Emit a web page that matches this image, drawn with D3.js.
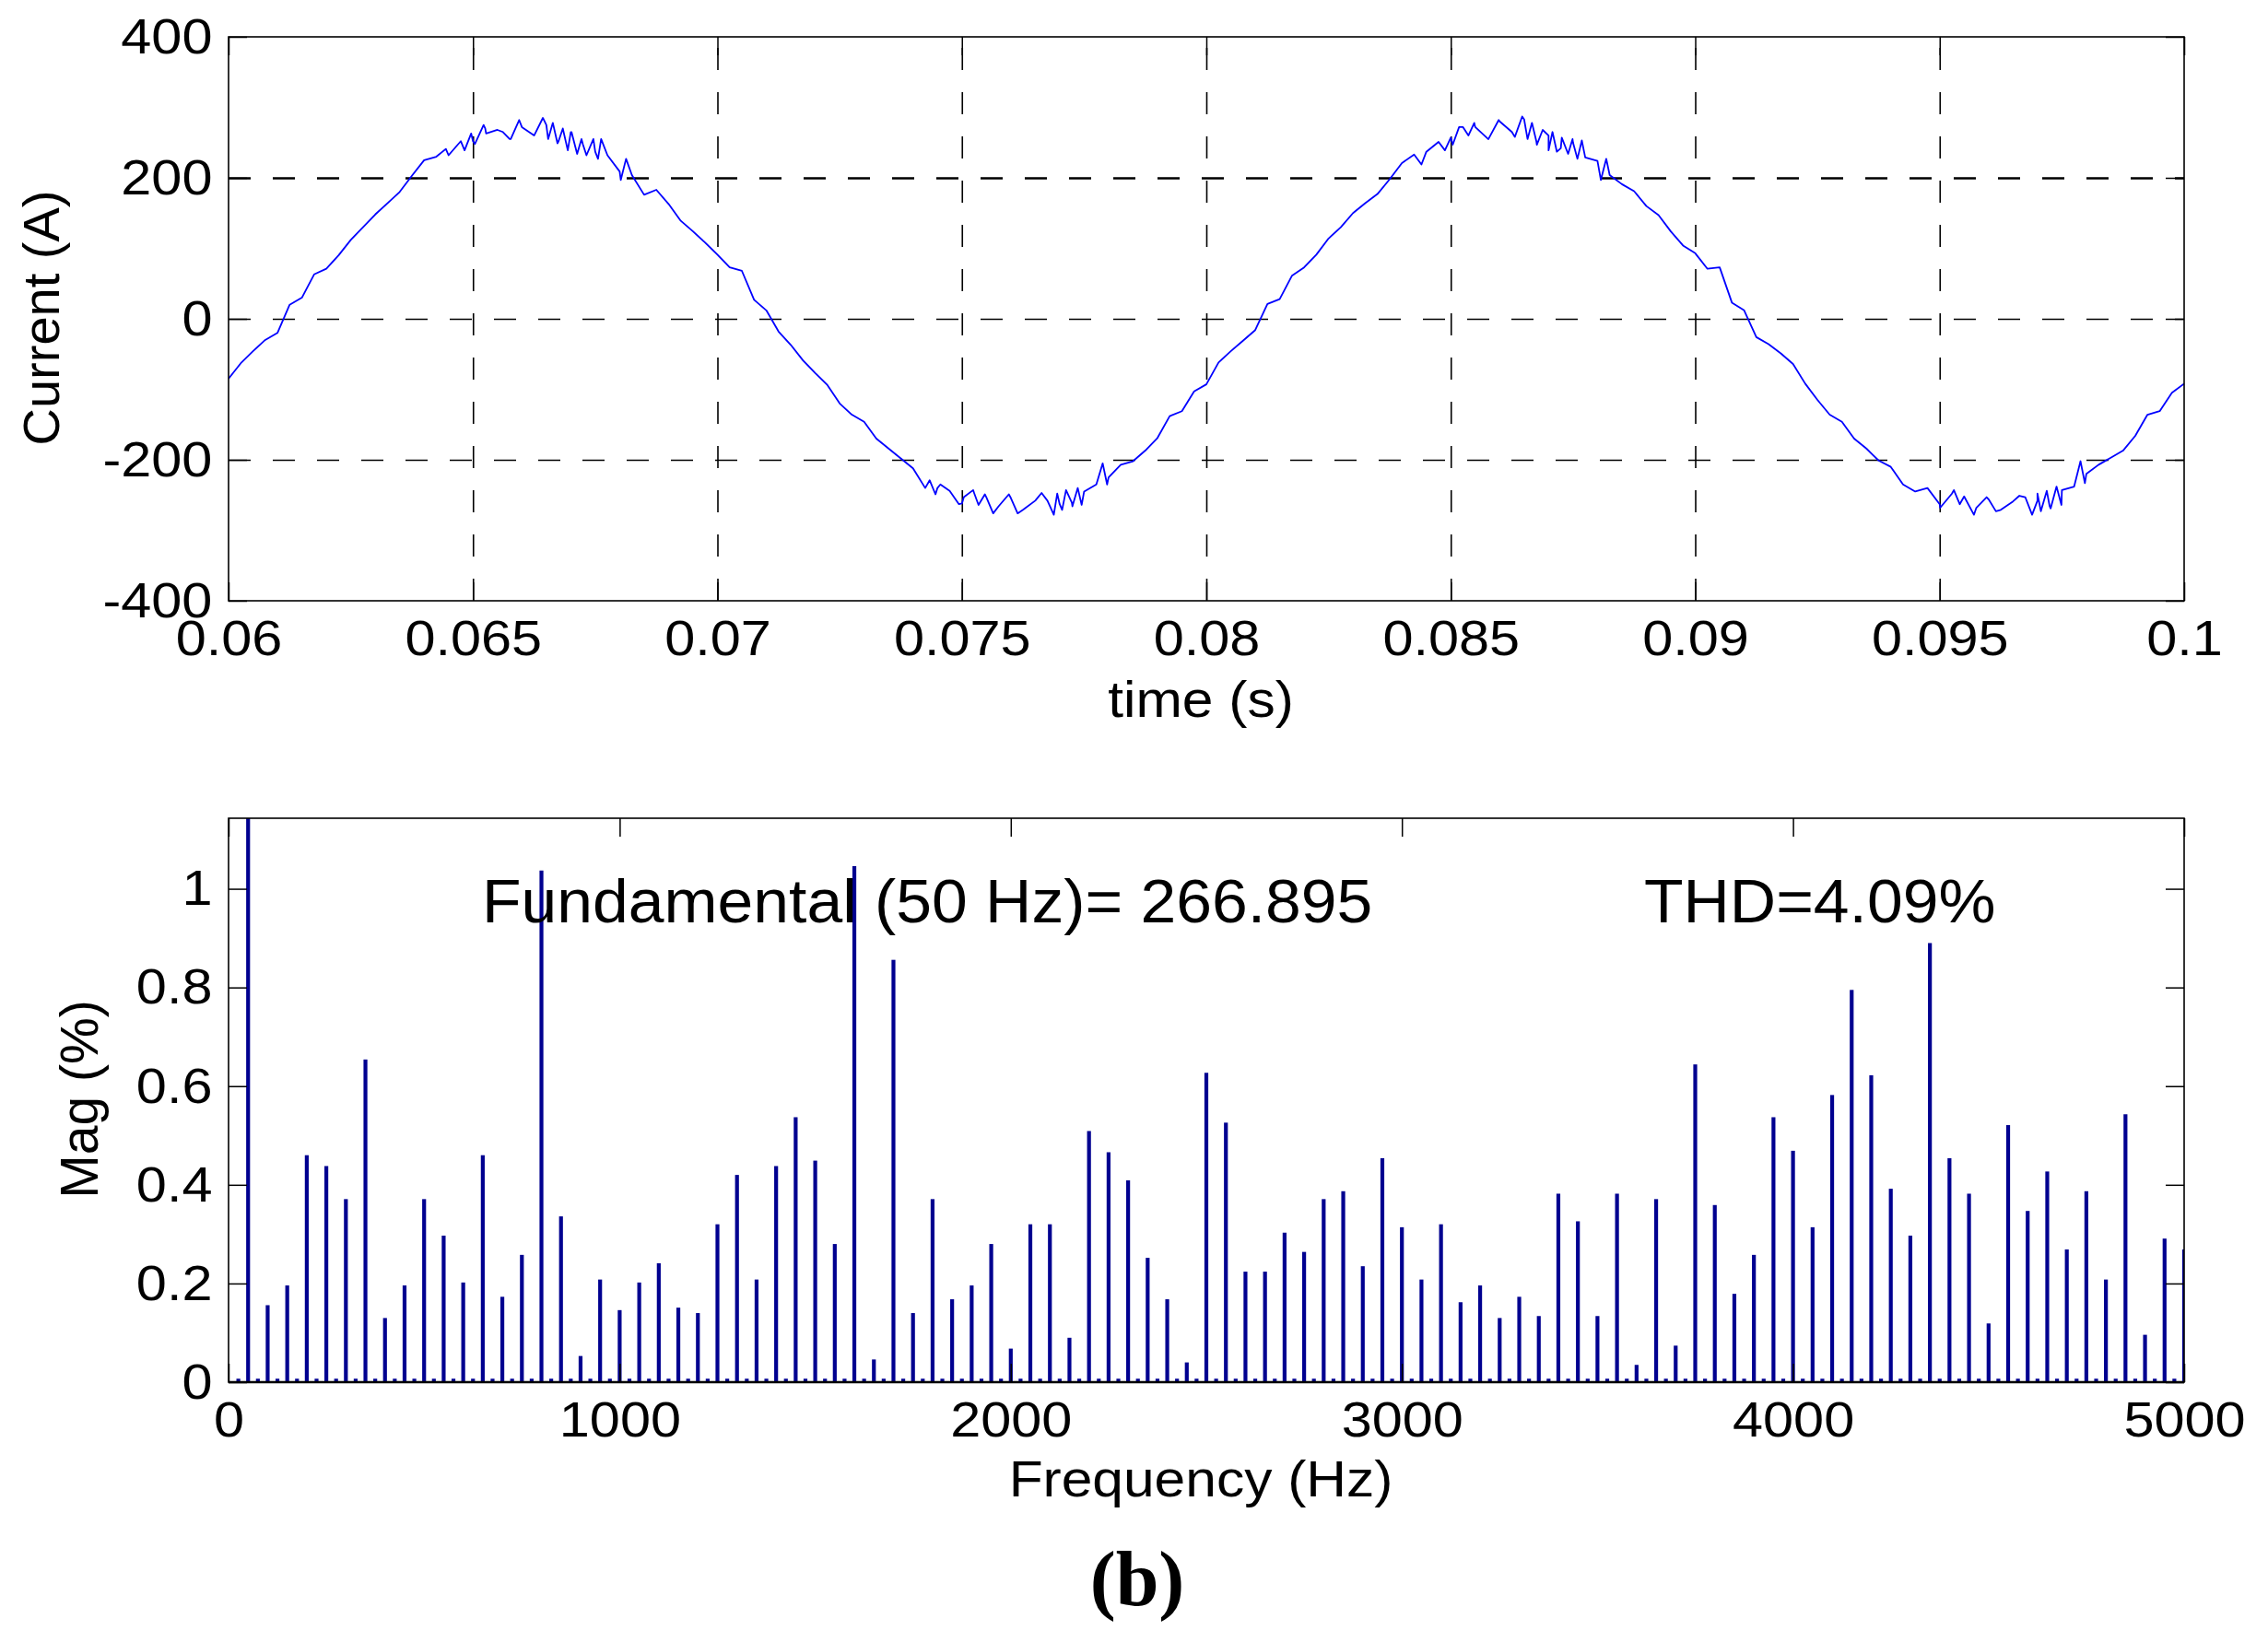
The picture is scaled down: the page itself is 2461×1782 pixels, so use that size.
<!DOCTYPE html>
<html>
<head>
<meta charset="utf-8">
<script src="https://cdn.jsdelivr.net/npm/d3@7"></script>
<style>
  html, body { margin: 0; padding: 0; background: #fff; }
  svg { display: block; }
  text { font-family: "Liberation Sans", Arial, sans-serif; fill: #000; }
</style>
</head>
<body>
<svg id="fig" width="2461" height="1782"></svg>
<script>
// ---- values ----
// current trace, one sample every 0.25 ms starting at t = 0.06 s
var tStart = 0.06, tStep = 0.00025;
var currentA = [-85, -63, -46, -30, -20, 20, 30, 63, 71, 90,
  112, 130, 148, 164, 180, 203, 225, 230, 232, 252,
  252, 270, 268, 255, 272, 260, 275, 252, 265, 247,
  237, 232, 209, 204, 176, 183, 163, 139, 124, 108];
var currentB = [91, 73, 68, 27, 12, -18, -37, -59, -77, -94,
  -120, -136, -146, -170, -184, -198, -212, -240, -240, -244,
  -262, -247, -253, -266, -254, -271, -258, -258, -263, -261,
  -245, -235, -225, -207, -202, -187, -169, -138, -131, -103];
var currentC = [-93, -62, -46, -31, -16, 21, 28, 61, 73, 91,
  114, 130, 150, 164, 177, 198, 221, 233, 237, 251,
  257, 272, 272, 256, 280, 265, 283, 252, 260, 242,
  250, 229, 224, 204, 191, 181, 160, 147, 124, 104];
var currentD = [93, 71, 73, 23, 12, -26, -36, -49, -64, -92,
  -115, -136, -146, -170, -184, -201, -210, -235, -245, -240,
  -263, -248, -252, -268, -256, -271, -259, -253, -258, -266,
  -243, -238, -220, -207, -197, -187, -166, -136, -131, -105, -92];

// extra spikes picked off the ripple near the crests and troughs
var spikeT = [0.064445, 0.064828, 0.064962, 0.065038, 0.065217, 0.065268, 0.065612, 0.065772,
  0.065944, 0.066429, 0.066537, 0.066633, 0.066728, 0.066837, 0.066939, 0.067015,
  0.06713, 0.067219, 0.067321, 0.067462, 0.067557, 0.067621, 0.068023, 0.068131,
  0.07425, 0.07434, 0.07446, 0.07456, 0.07494, 0.07504, 0.07523, 0.07534,
  0.07547, 0.07564, 0.07596, 0.07614, 0.07663, 0.07688, 0.07695, 0.07705,
  0.07713, 0.07726, 0.07737, 0.07745, 0.07788, 0.07797,
  0.0844, 0.08488, 0.08504, 0.08517, 0.08536, 0.08548, 0.08577, 0.08598,
  0.08631, 0.08646, 0.08657, 0.08666, 0.08676, 0.08688, 0.087, 0.08708,
  0.08717, 0.08727, 0.0874, 0.08749, 0.08759, 0.08768, 0.08807, 0.08818,
  0.09501, 0.09529, 0.09541, 0.0957, 0.09596, 0.09615, 0.09663, 0.09689,
  0.097, 0.09707, 0.09719, 0.09727, 0.09739, 0.09749, 0.09788, 0.09797];
var spikeV = [241, 239, 263, 248, 275, 263, 265, 255,
  282, 285, 255, 278, 249, 270, 239, 265,
  234, 255, 232, 255, 227, 255, 197, 227,
  -240, -229, -249, -235, -263, -253, -243, -264,
  -249, -276, -249, -276, -247, -278, -248, -271,
  -243, -266, -240, -264, -205, -235,
  219, 239, 247, 272, 260, 278, 255, 282,
  258, 287, 255, 278, 247, 268, 239, 265,
  237, 257, 234, 255, 227, 253, 197, 227,
  -268, -243, -263, -278, -253, -273, -251, -278,
  -248, -273, -244, -269, -238, -264, -202, -233];

var timeTicks = [0.06, 0.065, 0.07, 0.075, 0.08, 0.085, 0.09, 0.095, 0.1];
var timeTickLabels = ["0.06", "0.065", "0.07", "0.075", "0.08", "0.085", "0.09", "0.095", "0.1"];
var currentTicks = [-400, -200, 0, 200, 400];
var currentTickLabels = ["-400", "-200", "0", "200", "400"];

// harmonic spectrum (% of fundamental)
var harmFreq = [50, 100, 150, 200, 250, 300, 350, 400, 450, 500,
  550, 600, 650, 700, 750, 800, 850, 900, 950, 1000,
  1050, 1100, 1150, 1200, 1250, 1300, 1350, 1400, 1450, 1500,
  1550, 1600, 1650, 1700, 1750, 1800, 1850, 1900, 1950, 2000,
  2050, 2100, 2150, 2200, 2250, 2300, 2350, 2400, 2450, 2500,
  2550, 2600, 2650, 2700, 2750, 2800, 2850, 2900, 2950, 3000,
  3050, 3100, 3150, 3200, 3250, 3300, 3350, 3400, 3450, 3500,
  3550, 3600, 3650, 3700, 3750, 3800, 3850, 3900, 3950, 4000,
  4050, 4100, 4150, 4200, 4250, 4300, 4350, 4400, 4450, 4500,
  4550, 4600, 4650, 4700, 4750, 4800, 4850, 4900, 4950, 5000];
var harmMag = [100, 0.156, 0.196, 0.460, 0.438, 0.371, 0.654, 0.130, 0.196, 0.371,
  0.297, 0.202, 0.460, 0.173, 0.258, 1.037, 0.336, 0.053, 0.208, 0.146,
  0.202, 0.241, 0.151, 0.140, 0.320, 0.420, 0.208, 0.438, 0.537, 0.449,
  0.280, 1.046, 0.046, 0.856, 0.140, 0.371, 0.168, 0.196, 0.280, 0.068,
  0.320, 0.320, 0.090, 0.509, 0.466, 0.409, 0.252, 0.168, 0.040, 0.627,
  0.526, 0.224, 0.224, 0.303, 0.264, 0.371, 0.387, 0.235, 0.454, 0.314,
  0.208, 0.320, 0.162, 0.196, 0.130, 0.173, 0.134, 0.382, 0.326, 0.134,
  0.382, 0.035, 0.371, 0.074, 0.644, 0.359, 0.179, 0.258, 0.537, 0.469,
  0.314, 0.582, 0.795, 0.622, 0.392, 0.297, 0.890, 0.454, 0.382, 0.119,
  0.521, 0.347, 0.427, 0.269, 0.387, 0.208, 0.543, 0.096, 0.291, 0.269];
// tiny inter-harmonic stubs between the bars
var interFreq = [25, 75, 125, 175, 225, 275, 325, 375, 425, 475,
  525, 575, 625, 675, 725, 775, 825, 875, 925, 975,
  1025, 1075, 1125, 1175, 1225, 1275, 1325, 1375, 1425, 1475,
  1525, 1575, 1625, 1675, 1725, 1775, 1825, 1875, 1925, 1975,
  2025, 2075, 2125, 2175, 2225, 2275, 2325, 2375, 2425, 2475,
  2525, 2575, 2625, 2675, 2725, 2775, 2825, 2875, 2925, 2975,
  3025, 3075, 3125, 3175, 3225, 3275, 3325, 3375, 3425, 3475,
  3525, 3575, 3625, 3675, 3725, 3775, 3825, 3875, 3925, 3975,
  4025, 4075, 4125, 4175, 4225, 4275, 4325, 4375, 4425, 4475,
  4525, 4575, 4625, 4675, 4725, 4775, 4825, 4875, 4925, 4975];
var interMag = [0.007, 0.007, 0.007, 0.007, 0.007, 0.007, 0.007, 0.007, 0.007, 0.007,
  0.007, 0.007, 0.007, 0.007, 0.007, 0.007, 0.007, 0.007, 0.007, 0.007,
  0.007, 0.007, 0.007, 0.007, 0.007, 0.007, 0.007, 0.007, 0.007, 0.007,
  0.007, 0.007, 0.007, 0.007, 0.007, 0.007, 0.007, 0.007, 0.007, 0.007,
  0.007, 0.007, 0.007, 0.007, 0.007, 0.007, 0.007, 0.007, 0.007, 0.007,
  0.007, 0.007, 0.007, 0.007, 0.007, 0.007, 0.007, 0.007, 0.007, 0.007,
  0.007, 0.007, 0.007, 0.007, 0.007, 0.007, 0.007, 0.007, 0.007, 0.007,
  0.007, 0.007, 0.007, 0.007, 0.007, 0.007, 0.007, 0.007, 0.007, 0.007,
  0.007, 0.007, 0.007, 0.007, 0.007, 0.007, 0.007, 0.007, 0.007, 0.007,
  0.007, 0.007, 0.007, 0.007, 0.007, 0.007, 0.007, 0.007, 0.007, 0.007];

var freqTicks = [0, 1000, 2000, 3000, 4000, 5000];
var freqTickLabels = ["0", "1000", "2000", "3000", "4000", "5000"];
var magTicks = [0, 0.2, 0.4, 0.6, 0.8, 1];
var magTickLabels = ["0", "0.2", "0.4", "0.6", "0.8", "1"];

var fundText = "Fundamental (50 Hz)= 266.895";
var thdText = "THD=4.09%";


var svg = d3.select("#fig");

var boxTop = {l: 248, r: 2370, t: 40, b: 652};
var boxBot = {l: 248, r: 2370, t: 888, b: 1500};

var x1 = d3.scaleLinear().domain([0.06, 0.1]).range([boxTop.l, boxTop.r]);
var y1 = d3.scaleLinear().domain([-400, 400]).range([boxTop.b, boxTop.t]);
var x2 = d3.scaleLinear().domain([0, 5000]).range([boxBot.l, boxBot.r]);
var y2 = d3.scaleLinear().domain([0, 1.143]).range([boxBot.b, boxBot.t]);

var TICK = 20;
var SX = 1.1;   // tick text in the figure is a little wider than Liberation Sans

// clip rects
var defs = svg.append("defs");
defs.append("clipPath").attr("id", "clipTop").append("rect")
  .attr("x", boxTop.l).attr("y", boxTop.t)
  .attr("width", boxTop.r - boxTop.l).attr("height", boxTop.b - boxTop.t);
defs.append("clipPath").attr("id", "clipBot").append("rect")
  .attr("x", boxBot.l).attr("y", boxBot.t)
  .attr("width", boxBot.r - boxBot.l).attr("height", boxBot.b - boxBot.t);


// ---------- top: current vs time ----------

// dashed grid
var gx = svg.append("g").attr("transform", "translate(0," + boxTop.b + ")")
  .call(d3.axisBottom(x1).tickValues(timeTicks.slice(1, -1))
    .tickSize(-(boxTop.b - boxTop.t)).tickFormat(""));
gx.select(".domain").remove();
gx.selectAll("line").attr("stroke", "#000").attr("stroke-width", 1.6)
  .attr("stroke-dasharray", "24,24");

var gy = svg.append("g").attr("transform", "translate(" + boxTop.l + ",0)")
  .call(d3.axisLeft(y1).tickValues(currentTicks.slice(1, -1))
    .tickSize(-(boxTop.r - boxTop.l)).tickFormat(""));
gy.select(".domain").remove();
gy.selectAll("line").attr("stroke", "#000")
  .attr("stroke-width", function (d) { return d === 200 ? 2.4 : 1.4; })
  .attr("stroke-dasharray", "24,24");

var series = [].concat(currentA, currentB, currentC, currentD).map(function (v, i) {
  return [tStart + i * tStep, v];
});
spikeT.forEach(function (t, i) { series.push([t, spikeV[i]]); });
series.sort(function (a, b) { return a[0] - b[0]; });

svg.append("path")
  .datum(series)
  .attr("clip-path", "url(#clipTop)")
  .attr("fill", "none")
  .attr("stroke", "#0000ff")
  .attr("stroke-width", 1.8)
  .attr("stroke-linejoin", "round")
  .attr("d", d3.line().x(function (d) { return x1(d[0]); }).y(function (d) { return y1(d[1]); }));


function frame(box, xs, ys, xt, xl, yt, yl) {
  var b = svg.append("g").attr("transform", "translate(0," + box.b + ")")
    .call(d3.axisBottom(xs).tickValues(xt).tickFormat(function (d, i) { return xl[i]; })
      .tickSize(-TICK).tickSizeOuter(0).tickPadding(21));
  var l = svg.append("g").attr("transform", "translate(" + box.l + ",0)")
    .call(d3.axisLeft(ys).tickValues(yt).tickFormat(function (d, i) { return yl[i]; })
      .tickSize(-TICK).tickSizeOuter(0).tickPadding(16));
  var t = svg.append("g").attr("transform", "translate(0," + box.t + ")")
    .call(d3.axisTop(xs).tickValues(xt).tickFormat("").tickSize(-TICK).tickSizeOuter(0));
  var r = svg.append("g").attr("transform", "translate(" + box.r + ",0)")
    .call(d3.axisRight(ys).tickValues(yt).tickFormat("").tickSize(-TICK).tickSizeOuter(0));

  [b, l, t, r].forEach(function (g) {
    g.attr("font-size", null).attr("font-family", null);
    g.select(".domain").remove();
    g.selectAll("line").attr("stroke", "#000").attr("stroke-width", 1.5);
  });
  [b, l].forEach(function (g) {
    g.selectAll("text")
      .attr("font-size", 54)
      .attr("fill", "#000")
      .attr("transform", "scale(" + SX + ",1)");
  });

  svg.append("rect")
    .attr("x", box.l).attr("y", box.t)
    .attr("width", box.r - box.l).attr("height", box.b - box.t)
    .attr("fill", "none").attr("stroke", "#000").attr("stroke-width", 1.6);
}

frame(boxTop, x1, y1, timeTicks, timeTickLabels, currentTicks, currentTickLabels);

svg.append("text")
  .attr("transform", "translate(1303,778) scale(" + SX + ",1)")
  .attr("text-anchor", "middle")
  .attr("font-size", 55)
  .text("time (s)");

svg.append("text")
  .attr("transform", "translate(64,345) rotate(-90)")
  .attr("text-anchor", "middle")
  .attr("font-size", 56)
  .text("Current (A)");


// ---------- bottom: harmonic spectrum ----------
var BW = 4.2;
var bars = svg.append("g").attr("clip-path", "url(#clipBot)");

bars.selectAll("rect.inter")
  .data(interFreq)
  .join("rect")
  .attr("class", "inter")
  .attr("x", function (d) { return x2(d) - BW / 2; })
  .attr("y", function (d, i) { return y2(interMag[i]); })
  .attr("width", BW)
  .attr("height", function (d, i) { return y2(0) - y2(interMag[i]); })
  .attr("fill", "#000090");

bars.selectAll("rect.harm")
  .data(harmFreq)
  .join("rect")
  .attr("class", "harm")
  .attr("x", function (d) { return x2(d) - BW / 2; })
  .attr("y", function (d, i) { return y2(harmMag[i]); })
  .attr("width", BW)
  .attr("height", function (d, i) { return y2(0) - y2(harmMag[i]); })
  .attr("fill", "#000090");

frame(boxBot, x2, y2, freqTicks, freqTickLabels, magTicks, magTickLabels);

// bar baseline
svg.append("line")
  .attr("x1", boxBot.l).attr("x2", boxBot.r)
  .attr("y1", y2(0)).attr("y2", y2(0))
  .attr("stroke", "#000").attr("stroke-width", 2.6);

svg.append("text")
  .attr("transform", "translate(523,1001) scale(1.04,1)")
  .attr("font-size", 67)
  .text(fundText);

svg.append("text")
  .attr("transform", "translate(1784,1001) scale(1.04,1)")
  .attr("font-size", 67)
  .text(thdText);

svg.append("text")
  .attr("transform", "translate(1303,1624) scale(" + SX + ",1)")
  .attr("text-anchor", "middle")
  .attr("font-size", 55)
  .text("Frequency (Hz)");

svg.append("text")
  .attr("transform", "translate(106,1193) rotate(-90)")
  .attr("text-anchor", "middle")
  .attr("font-size", 57)
  .text("Mag (%)");

svg.append("text")
  .attr("x", 1234).attr("y", 1742)
  .attr("text-anchor", "middle")
  .style("font-family", "'Liberation Serif', 'Times New Roman', serif")
  .style("font-weight", "bold")
  .attr("font-size", 84)
  .text("(b)");
</script>
</body>
</html>
